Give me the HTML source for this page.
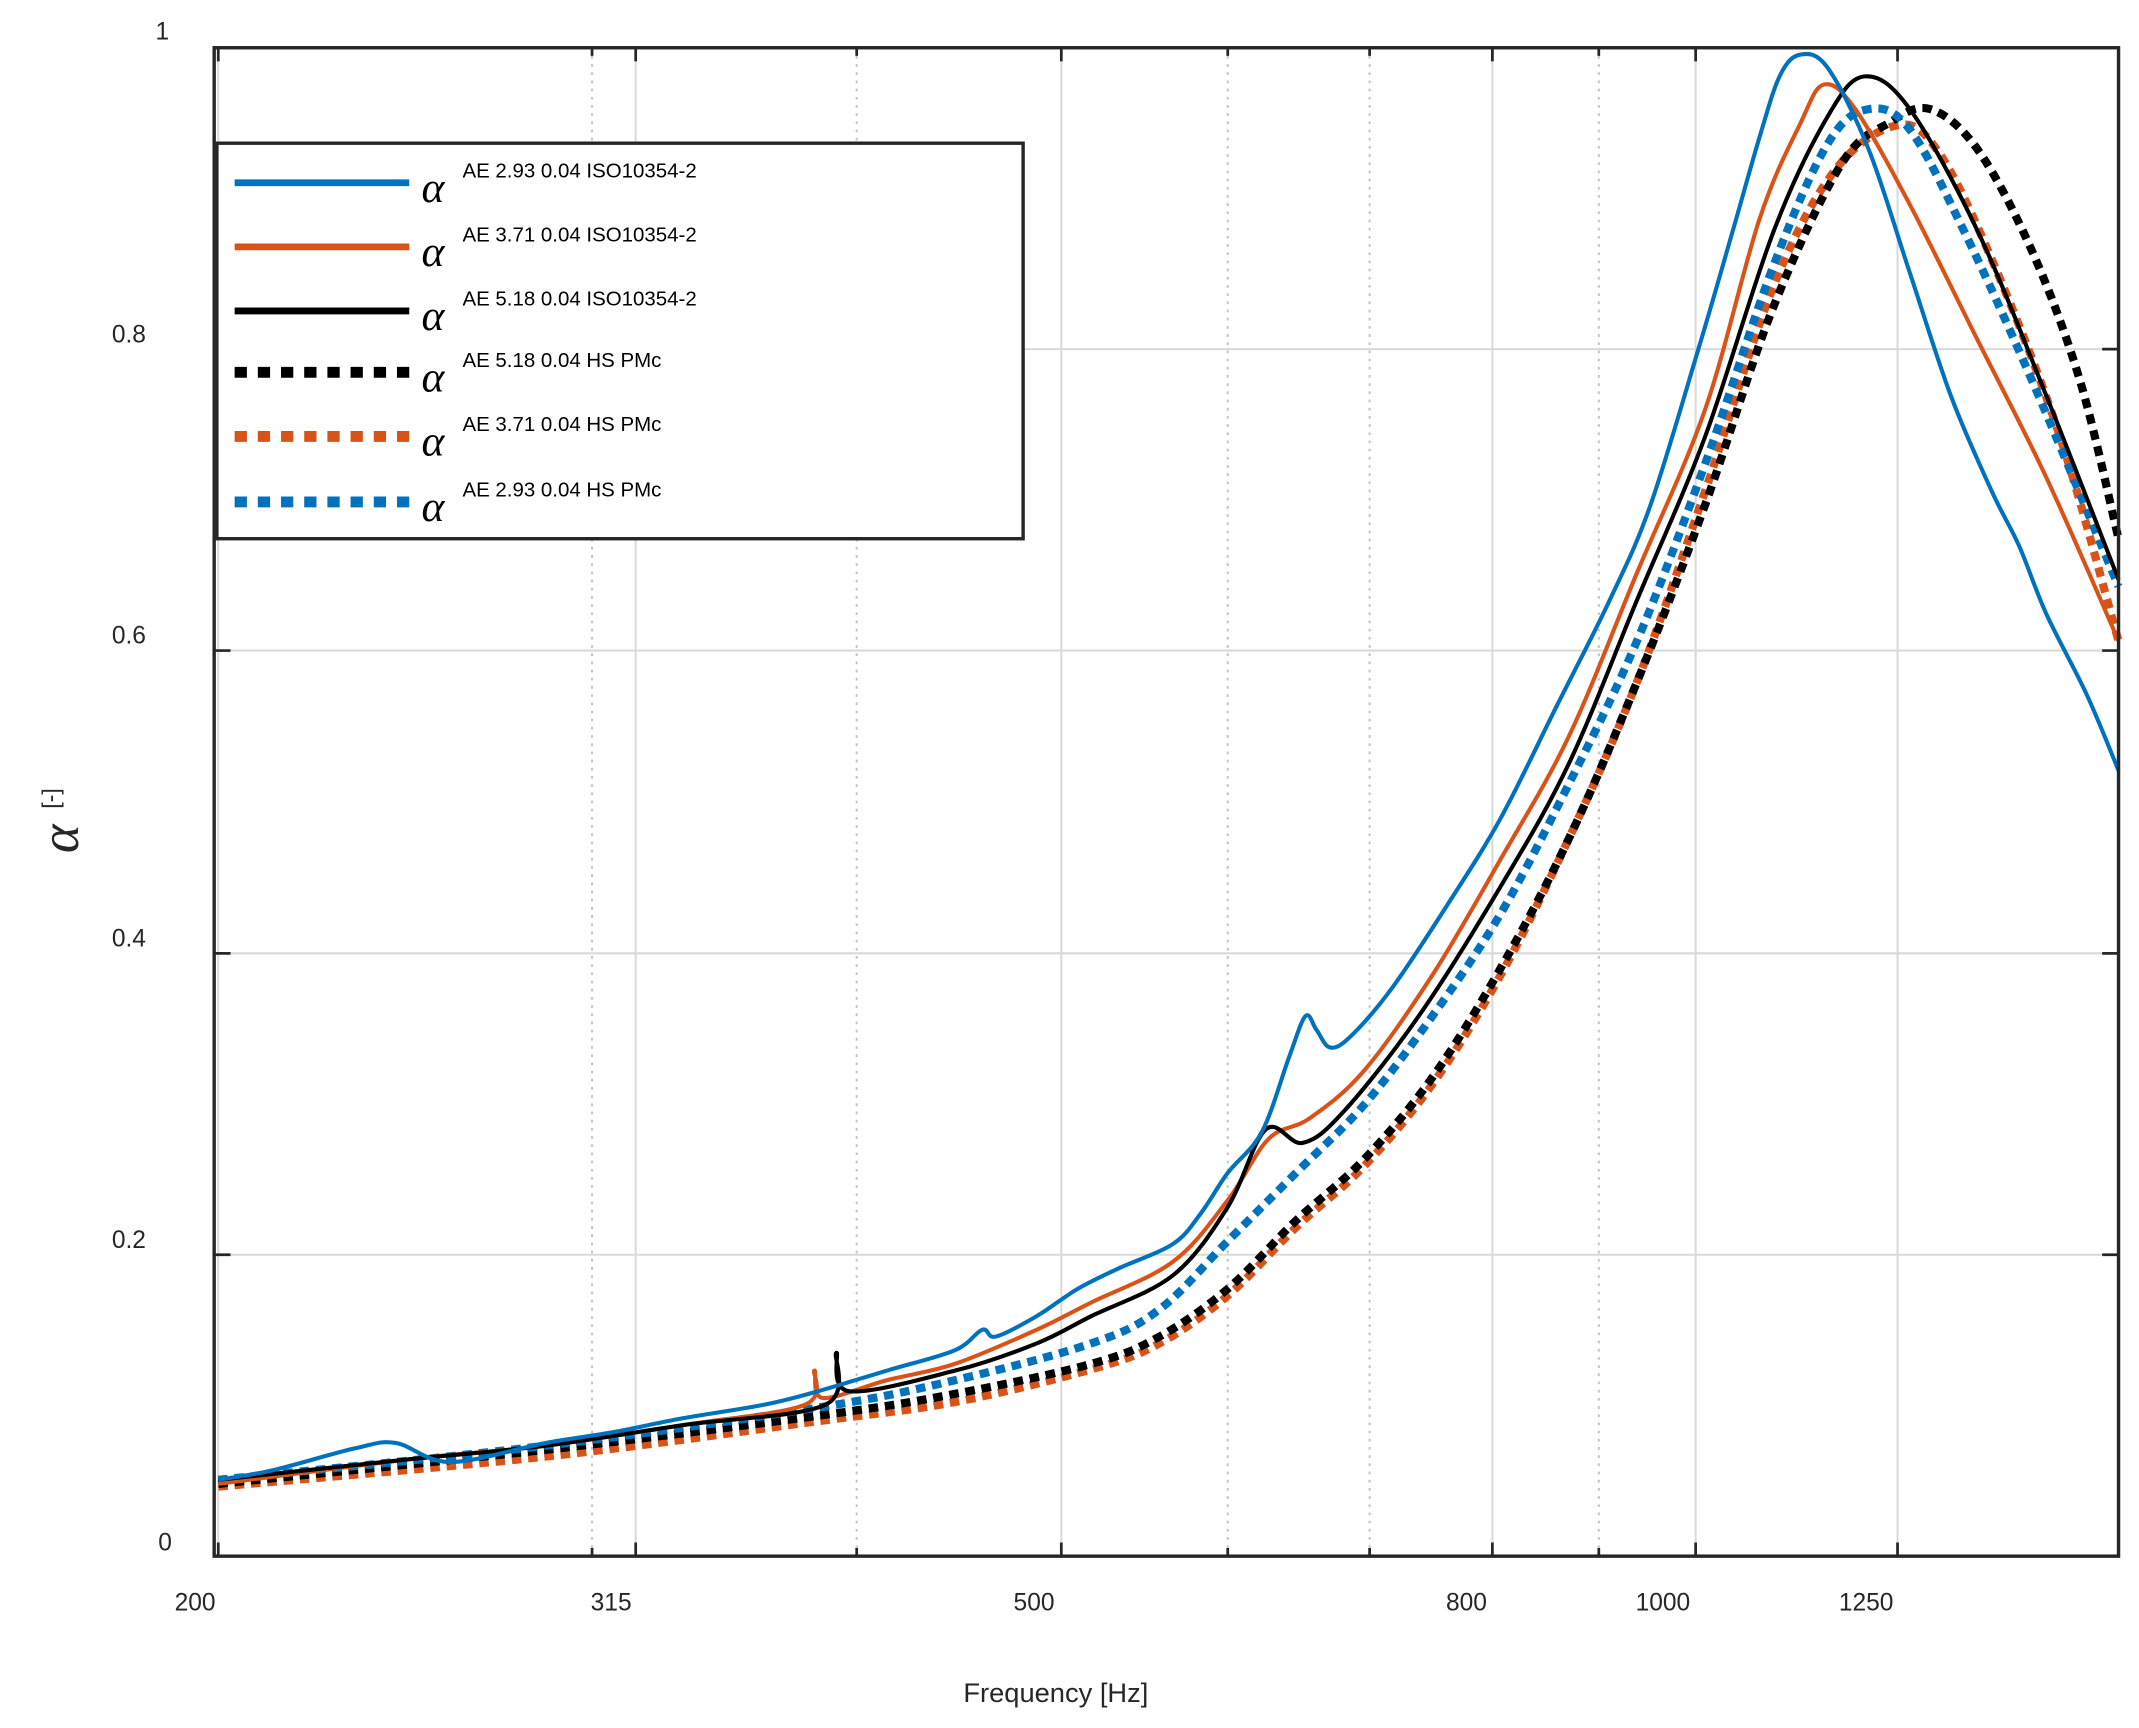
<!DOCTYPE html>
<html><head><style>html,body{margin:0;padding:0;background:#fff}svg{display:block}</style></head>
<body>
<svg id="s" width="2139" height="1728" viewBox="0 0 1568 1267" preserveAspectRatio="none" xmlns="http://www.w3.org/2000/svg" font-family="Liberation Sans, Arial, sans-serif">
<rect width="1568" height="1267" fill="#fff"/>
<g stroke="#d9d9d9" stroke-width="1.5">
<line x1="157" y1="920" x2="1553" y2="920"/><line x1="157" y1="699" x2="1553" y2="699"/><line x1="157" y1="477" x2="1553" y2="477"/><line x1="157" y1="256" x2="1553" y2="256"/>
<line x1="466" y1="35" x2="466" y2="1141"/><line x1="778" y1="35" x2="778" y2="1141"/><line x1="1094" y1="35" x2="1094" y2="1141"/><line x1="1243" y1="35" x2="1243" y2="1141"/><line x1="1391" y1="35" x2="1391" y2="1141"/><line x1="160" y1="35" x2="160" y2="1141"/>
</g>
<g stroke="#c4c4c4" stroke-width="1.5" stroke-dasharray="2,4">
<line x1="434" y1="35" x2="434" y2="1141"/><line x1="628" y1="35" x2="628" y2="1141"/><line x1="900" y1="35" x2="900" y2="1141"/><line x1="1004" y1="35" x2="1004" y2="1141"/><line x1="1172" y1="35" x2="1172" y2="1141"/>
</g>
<g fill="none" stroke-linejoin="round">
<path class="c" stroke="#d95319" stroke-width="6" stroke-dasharray="7,5" data-p="160,1090 400,1068 600,1042 700,1028 800,1004 850,985 900,950 950,900 1000,855 1050,795 1100,715 1150,615 1200,500 1250,360 1300,210 1345,125 1390,92 1420,110 1460,190 1510,320 1553,470"/>
<path class="c" stroke="#000" stroke-width="6" stroke-dasharray="7,5" data-p="160,1088 400,1063 600,1038 700,1022 800,1000 850,980 900,945 950,895 1000,850 1050,790 1100,710 1150,615 1200,500 1250,370 1300,225 1350,120 1385,90 1415,80 1450,110 1490,185 1525,280 1553,395"/>
<path class="c" stroke="#0072bd" stroke-width="6" stroke-dasharray="7,5" data-p="160,1085 400,1060 600,1032 700,1012 800,985 850,960 900,910 950,860 1000,810 1050,745 1100,670 1150,575 1200,470 1250,340 1300,195 1340,105 1370,80 1400,95 1440,170 1490,280 1553,430"/>
<path class="c" stroke="#d95319" stroke-width="3" data-p="160,1088 300,1070 400,1060 500,1045 590,1030 597,1005 603,1025 650,1012 700,1000 760,975 800,955 860,925 900,880 930,835 960,820 1000,785 1050,715 1100,630 1150,540 1200,420 1250,300 1290,160 1320,90 1337,62 1360,80 1400,150 1450,250 1500,350 1553,470"/>
<path class="c" stroke="#000" stroke-width="3" data-p="160,1085 300,1070 400,1060 500,1045 605,1030 613,992 622,1020 700,1005 760,985 800,965 860,935 900,885 928,828 955,838 985,815 1040,745 1100,650 1150,560 1200,440 1250,320 1300,170 1340,85 1367,56 1400,80 1450,170 1500,290 1553,425"/>
<path class="c" stroke="#0072bd" stroke-width="3" data-p="160,1085 200,1078 260,1062 290,1058 330,1072 400,1058 450,1050 500,1040 560,1030 600,1020 650,1005 700,990 720,975 730,980 760,965 790,945 820,930 860,912 880,890 900,860 925,830 945,775 957,745 965,755 975,768 990,760 1020,725 1060,665 1100,600 1140,520 1180,440 1210,370 1245,256 1270,170 1290,100 1305,55 1320,40 1340,50 1370,110 1400,200 1430,290 1460,360 1480,400 1500,450 1530,510 1553,565"/>
</g>
<rect x="157" y="35" width="1396" height="1106" fill="none" stroke="#262626" stroke-width="2.5"/>
<g stroke="#262626" stroke-width="2">
<path d="M160,1141v-10M466,1141v-10M778,1141v-10M1094,1141v-10M1243,1141v-10M1391,1141v-10M434,1141v-6M628,1141v-6M900,1141v-6M1004,1141v-6M1172,1141v-6"/>
<path d="M160,35v10M466,35v10M778,35v10M1094,35v10M1243,35v10M1391,35v10M434,35v6M628,35v6M900,35v6M1004,35v6M1172,35v6"/>
<path d="M157,920h12M157,699h12M157,477h12M157,256h12M1553,920h-12M1553,699h-12M1553,477h-12M1553,256h-12"/>
</g>
<g font-size="18" fill="#262626" text-anchor="end">
<text x="126" y="1137">0</text><text x="107" y="915">0.2</text><text x="107" y="694">0.4</text><text x="107" y="472">0.6</text><text x="107" y="251">0.8</text><text x="124" y="29">1</text>
</g>
<g font-size="18" fill="#262626" text-anchor="middle">
<text x="143" y="1181">200</text><text x="448" y="1181">315</text><text x="758" y="1181">500</text><text x="1075" y="1181">800</text><text x="1219" y="1181">1000</text><text x="1368" y="1181">1250</text>
<text x="774" y="1248" font-size="20">Frequency [Hz]</text>
</g>
<g transform="translate(57,615) rotate(-90)"><text x="0" y="0" font-family="Liberation Serif, serif" font-style="italic" font-size="40" fill="#262626" text-anchor="middle">α</text><text x="22" y="-14" font-size="17" fill="#262626">[-]</text></g>
<rect x="159" y="105" width="591" height="290" fill="#fff" stroke="#262626" stroke-width="2.5"/>
<g stroke-width="5">
<line x1="172" y1="134" x2="300" y2="134" stroke="#0072bd"/>
<line x1="172" y1="181" x2="300" y2="181" stroke="#d95319"/>
<line x1="172" y1="228" x2="300" y2="228" stroke="#000"/>
<line x1="172" y1="273" x2="300" y2="273" stroke="#000" stroke-width="8" stroke-dasharray="9,8"/>
<line x1="172" y1="320" x2="300" y2="320" stroke="#d95319" stroke-width="8" stroke-dasharray="9,8"/>
<line x1="172" y1="368" x2="300" y2="368" stroke="#0072bd" stroke-width="8" stroke-dasharray="9,8"/>
</g>
<g fill="#000">
<g font-family="Liberation Serif, serif" font-style="italic" font-size="32">
<text x="309" y="148">α</text><text x="309" y="195">α</text><text x="309" y="242">α</text><text x="309" y="287">α</text><text x="309" y="334">α</text><text x="309" y="382">α</text>
</g>
<g font-size="15">
<text x="339" y="130">AE 2.93 0.04 ISO10354-2</text><text x="339" y="177">AE 3.71 0.04 ISO10354-2</text><text x="339" y="224">AE 5.18 0.04 ISO10354-2</text><text x="339" y="269">AE 5.18 0.04 HS PMc</text><text x="339" y="316">AE 3.71 0.04 HS PMc</text><text x="339" y="364">AE 2.93 0.04 HS PMc</text>
</g>
</g>
</svg>
<script>
document.querySelectorAll('path.c').forEach(function(el){
var p=el.getAttribute('data-p').trim().split(/\s+/).map(function(s){return s.split(',').map(Number);});
var d='M'+p[0][0]+','+p[0][1];
for(var i=0;i<p.length-1;i++){
var p0=p[i-1]||p[i],p1=p[i],p2=p[i+1],p3=p[i+2]||p2;
var t=0.5/3;
var c1=[p1[0]+(p2[0]-p0[0])*t,p1[1]+(p2[1]-p0[1])*t];
var c2=[p2[0]-(p3[0]-p1[0])*t,p2[1]-(p3[1]-p1[1])*t];
d+=' C'+c1[0].toFixed(1)+','+c1[1].toFixed(1)+' '+c2[0].toFixed(1)+','+c2[1].toFixed(1)+' '+p2[0]+','+p2[1];
}
el.setAttribute('d',d);
});
</script>
</body></html>
